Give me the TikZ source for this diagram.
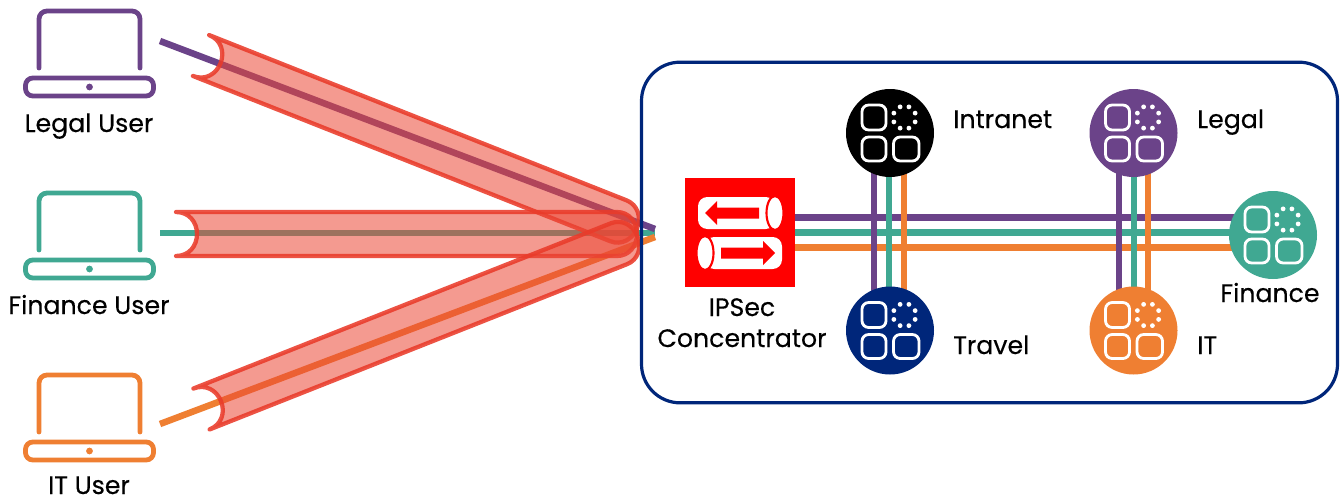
\documentclass[tikz,border=0pt]{standalone}
\usepackage{fontspec}
\setmainfont[FakeBold=0.35]{Poppins}
\usetikzlibrary{backgrounds}
\definecolor{legalcolor}{HTML}{6B4389}
\definecolor{financecolor}{HTML}{40A892}
\definecolor{itcolor}{HTML}{EF7F32}
\definecolor{travelcolor}{HTML}{00267A}
\definecolor{tunnelfill}{HTML}{EB4735}
\definecolor{tunneledge}{HTML}{E93B2A}
\tikzset{
  label text/.style={font=\fontsize{18.9}{23}\selectfont, inner sep=0pt, align=center},
  app/.style={draw=none, circle, minimum size=66pt, inner sep=0pt},
  link/.style={line width=4.9pt},
  tunnel path/.style={draw=tunneledge, fill=tunnelfill, fill opacity=0.55, draw opacity=0.88, line width=3.2pt, line join=round},
  pics/tunnel/.style={code={
    \path[tunnel path] (0,-22) .. controls (13,-22) and (21,-12) .. (21,0) .. controls (21,12) and (13,22) .. (0,22)
      -- ({#1-20},22) .. controls ({#1-8},22) and (#1,12) .. (#1,0) .. controls (#1,-12) and ({#1-8},-22) .. ({#1-20},-22) -- cycle;
  }},
  pics/laptop/.style={code={
    \draw[#1, line width=3.6pt, line cap=round, rounded corners=6pt] (-50.5,-19) -- (-50.5,-76) -- (50.5,-76) -- (50.5,-19);
    \draw[#1, line width=3.6pt, rounded corners=5.5pt] (-64,-9) rectangle (64,9);
    \fill[#1] (0,0) circle (3.4);
  }},
  pics/appicon/.style={code={
    \draw[white, line width=2.1pt, rounded corners=5pt] (-28,-28) rectangle (-4,-3);
    \draw[white, line width=2.1pt, rounded corners=5pt] (-28,4) rectangle (-4,28);
    \draw[white, line width=2.1pt, rounded corners=5pt] (3.5,4) rectangle (29,28);
    \foreach \a in {22.5,67.5,...,337.5}
      \fill[white] ({14.5+11.5*cos(\a)},{-15.5+11.5*sin(\a)}) circle (2.4);
  }}
}
\begin{document}
\begin{tikzpicture}[x=0.75pt, y=-0.75pt]
  \useasboundingbox (0,0) rectangle (1342,501);
  % Users
  \coordinate (legallaptop) at (89.5,87);
  \coordinate (financelaptop) at (89.5,269);
  \coordinate (itlaptop) at (89.5,451);
  \pic at (legallaptop) {laptop=legalcolor};
  \pic at (financelaptop) {laptop=financecolor};
  \pic at (itlaptop) {laptop=itcolor};
  \node[label text, anchor=base] (legaluser) at (89,132) {Legal User};
  \node[label text, anchor=base] (financeuser) at (89,314) {Finance User};
  \node[label text, anchor=base] (ituser) at (89,494) {IT User};
  % Nodes
  \node[draw=none, fill=red, minimum width=82.5pt, minimum height=81.75pt, inner sep=0pt] (concentrator) at (740,232.5) {};
  \node[app, fill=black] (intranetapp) at (890,133) {};
  \node[app, fill=legalcolor] (legalapp) at (1133.5,133) {};
  \node[app, fill=travelcolor] (travelapp) at (890,330.5) {};
  \node[app, fill=itcolor] (itapp) at (1133.5,330.5) {};
  \node[app, fill=financecolor] (financeapp) at (1273,235) {};
  \pic at (intranetapp.center) {appicon};
  \pic at (legalapp.center) {appicon};
  \pic at (travelapp.center) {appicon};
  \pic at (itapp.center) {appicon};
  \pic at (financeapp.center) {appicon};
  \coordinate (legalhub) at (655,229);
  \coordinate (financehub) at (655,233);
  \coordinate (ithub) at (655,237);
  \coordinate (legalstart) at (160,41);
  \coordinate (financestart) at (160,233);
  \coordinate (itstart) at (160,424);
  % Arrows
  \draw[link, financecolor] (financestart) -- (financehub);
  \draw[link, itcolor] (itstart) -- (ithub);
  \draw[link, legalcolor] (legalstart) -- (legalhub);
  % Tunnels
  \pic[rotate=-21.6] at (201,55.5) {tunnel=469};
  \pic at (176,234) {tunnel=461};
  \pic[rotate=21.6] at (201.5,409) {tunnel=469};
  % Site
  \node[draw=travelcolor, line width=2.4pt, rounded corners=29pt, minimum width=522pt, minimum height=255.5pt, inner sep=0pt] (site) at (989.5,232.5) {};
  % Links
  \begin{scope}[on background layer]
    \draw[link, legalcolor] ([yshift=11.25pt]concentrator.center) -- ([yshift=13.125pt]financeapp.center);
    \draw[link, financecolor] (concentrator.center) -- ([yshift=1.875pt]financeapp.center);
    \draw[link, itcolor] ([yshift=-11.25pt]concentrator.center) -- ([yshift=-9.375pt]financeapp.center);
    \draw[link, legalcolor] ([xshift=-12pt]intranetapp.center) -- ([xshift=-12pt]travelapp.center);
    \draw[link, financecolor] ([xshift=-0.75pt]intranetapp.center) -- ([xshift=-0.75pt]travelapp.center);
    \draw[link, itcolor] ([xshift=10.5pt]intranetapp.center) -- ([xshift=10.5pt]travelapp.center);
    \draw[link, legalcolor] ([xshift=-10.9pt]legalapp.center) -- ([xshift=-10.9pt]itapp.center);
    \draw[link, financecolor] ([xshift=0.4pt]legalapp.center) -- ([xshift=0.4pt]itapp.center);
    \draw[link, itcolor] ([xshift=10.9pt]legalapp.center) -- ([xshift=10.9pt]itapp.center);
  \end{scope}
  % Concentrator icon
  \begin{scope}[shift={(concentrator.center)}]
    \fill[white, rounded corners=7pt] (-42,-35.5) rectangle (35,-3.5);
    \draw[red, fill=white, line width=1.6pt] (35,-19.5) ellipse [x radius=8.5, y radius=17];
    \fill[red] (-35,-19.5) -- (-23,-31.5) -- (-23,-25) -- (19,-25) -- (19,-14) -- (-23,-14) -- (-23,-7.5) -- cycle;
    \fill[white, rounded corners=7pt] (-35,4.5) rectangle (42,36.5);
    \draw[red, fill=white, line width=1.6pt] (-35,20.5) ellipse [x radius=8.5, y radius=17];
    \fill[red] (35,20.5) -- (23,8.5) -- (23,15) -- (-19,15) -- (-19,26) -- (23,26) -- (23,32.5) -- cycle;
  \end{scope}
  % Labels
  \node[label text, anchor=base] (ipseclabel) at (742,316) {IPSec};
  \node[label text, anchor=base] (concentratorlabel) at (742,347) {Concentrator};
  \node[label text, anchor=base west] (intranetlabel) at (953,128) {Intranet};
  \node[label text, anchor=base west] (legallabel) at (1197,128) {Legal};
  \node[label text, anchor=base west] (travellabel) at (953,354) {Travel};
  \node[label text, anchor=base west] (itlabel) at (1197,354) {IT};
  \node[label text, anchor=base] (financelabel) at (1270,302) {Finance};
\end{tikzpicture}
\end{document}
